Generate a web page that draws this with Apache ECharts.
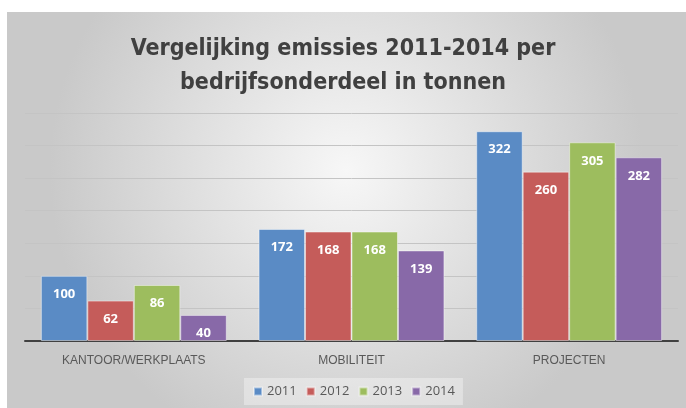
<!DOCTYPE html>
<html>
<head>
<meta charset="utf-8">
<script src="https://cdn.jsdelivr.net/npm/echarts@6/dist/echarts.min.js"></script>
<style>
  html, body { margin: 0; padding: 0; background: #fff; }
  #chart { width: 686px; height: 408px; }
</style>
</head>
<body>
<div id="chart"></div>
<script>
var categories = ['KANTOOR/WERKPLAATS', 'MOBILITEIT', 'PROJECTEN'];
var years = ['2011', '2012', '2013', '2014'];
var values2011 = [100, 172, 322];
var values2012 = [62, 168, 260];
var values2013 = [86, 168, 305];
var values2014 = [40, 139, 282];
var colors = ['#5a8bc5', '#c55c5a', '#9dbd5e', '#8869a8'];

var dom = document.getElementById('chart');
var myChart = echarts.init(dom);

function makeSeries(name, data) {
    return {
        name: name,
        type: 'bar',
        barGap: '0%',
        barCategoryGap: '14.6%',
        data: data,
        itemStyle: { borderColor: 'rgba(255,255,255,0.45)', borderWidth: 1 },
        label: {
            show: true,
            position: 'insideTop',
            distance: 12,
            color: '#fff',
            fontWeight: 'bold',
            fontSize: 13,
            fontFamily: 'Open Sans'
        }
    };
}

var option = {
    color: colors,
    graphic: [{
        type: 'rect',
        z: -10,
        silent: true,
        shape: { x: 7, y: 12, width: 679, height: 396 },
        style: {
            fill: new echarts.graphic.RadialGradient(0.5, 0.4, 0.75, [
                { offset: 0, color: '#f7f7f7' },
                { offset: 1, color: '#c9c9c9' }
            ])
        }
    }],
    title: {
        text: 'Vergelijking emissies 2011-2014 per\nbedrijfsonderdeel in tonnen',
        left: 'center',
        top: 27,
        textStyle: {
            fontFamily: '"DejaVu Sans Condensed", sans-serif',
            fontSize: 23,
            fontWeight: 'bold',
            color: '#404040',
            lineHeight: 34
        }
    },
    legend: {
        data: years,
        bottom: 3,
        left: 244,
        itemWidth: 8,
        itemHeight: 8,
        itemGap: 9,
        icon: 'rect',
        padding: [7, 8, 7, 9],
        backgroundColor: 'rgba(255,255,255,0.35)',
        textStyle: { color: '#595959', fontSize: 13, fontFamily: 'Open Sans' }
    },
    grid: { left: 25, right: 8, top: 113, bottom: 67 },
    xAxis: {
        type: 'category',
        data: categories,
        axisLine: { lineStyle: { color: '#404040', width: 2 } },
        axisTick: { show: false },
        axisLabel: { color: '#595959', fontSize: 12, margin: 14, fontFamily: 'Liberation Sans' }
    },
    yAxis: {
        type: 'value',
        min: 0,
        max: 350,
        interval: 50,
        axisLabel: { show: false },
        axisLine: { show: false },
        axisTick: { show: false },
        splitLine: { lineStyle: { color: '#c4c4c4', width: 1 } }
    },
    series: [
        makeSeries('2011', values2011),
        makeSeries('2012', values2012),
        makeSeries('2013', values2013),
        makeSeries('2014', values2014)
    ]
};

myChart.setOption(option);
window.addEventListener('resize', function () { myChart.resize(); });
</script>
</body>
</html>
